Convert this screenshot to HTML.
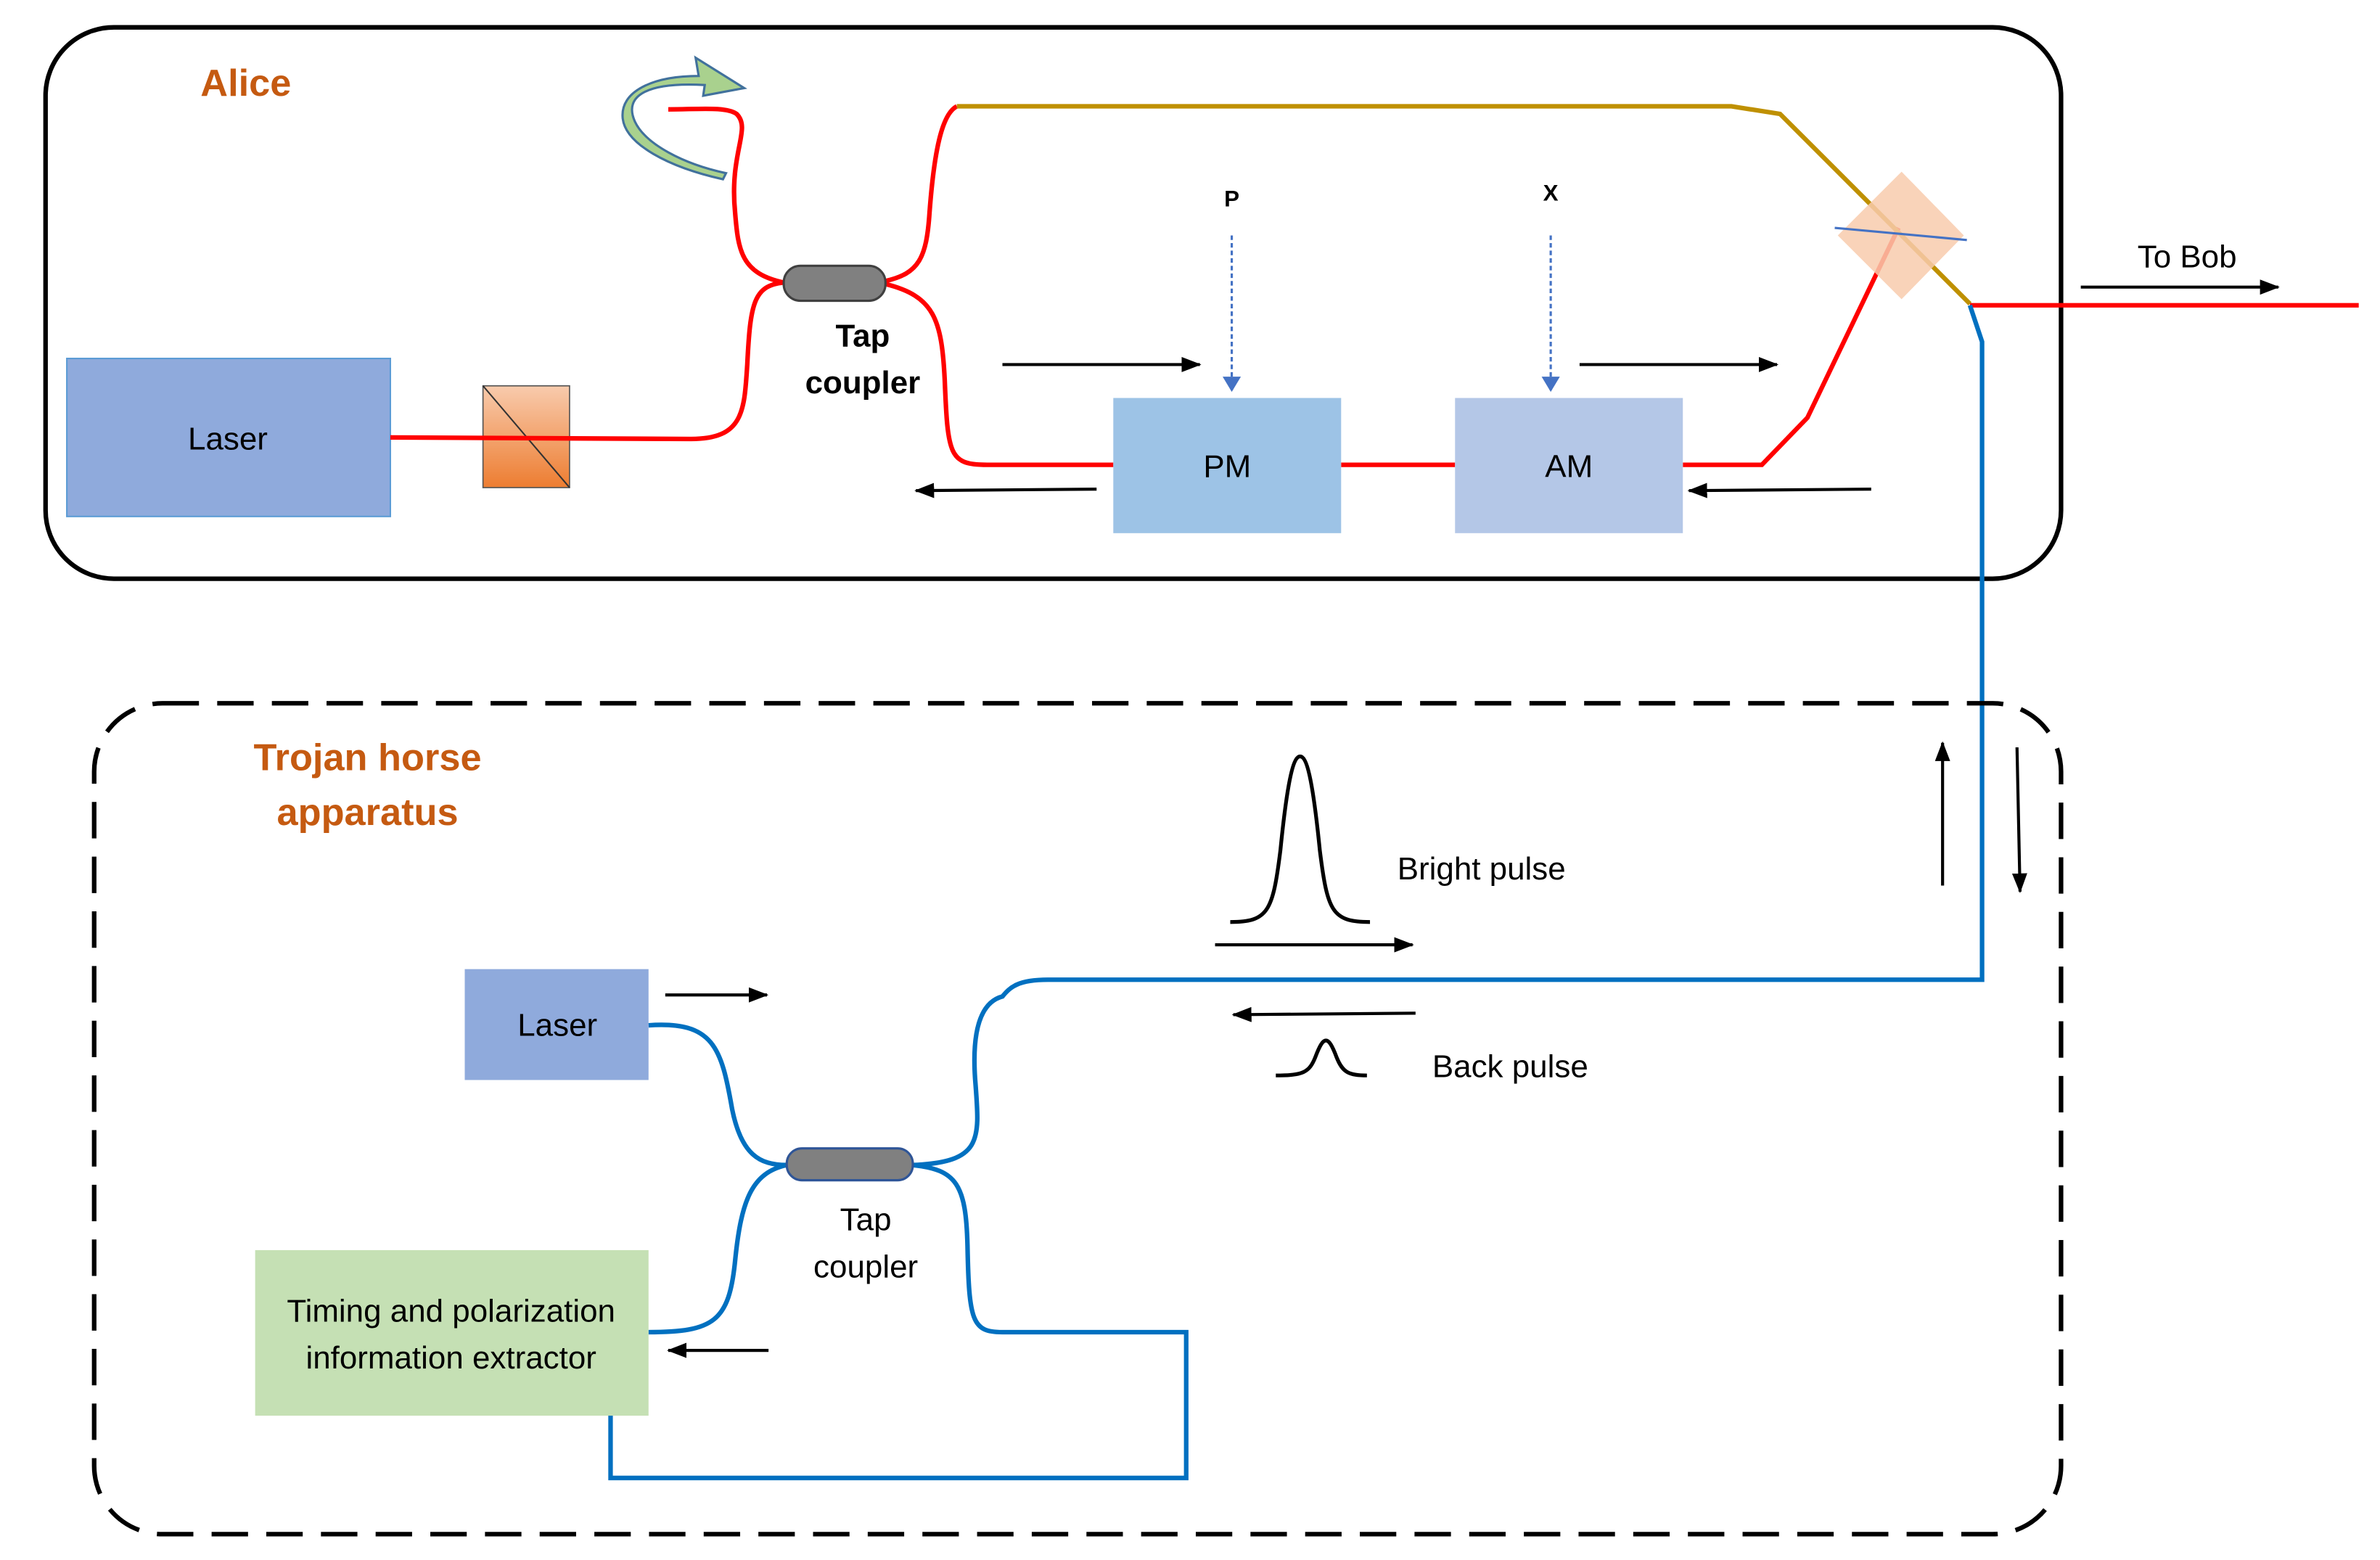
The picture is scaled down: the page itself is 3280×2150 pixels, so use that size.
<!DOCTYPE html>
<html><head><meta charset="utf-8"><style>
html,body{margin:0;padding:0;background:#fff;}
svg{display:block;}
text{font-family:"Liberation Sans",sans-serif;}
</style></head><body>
<svg width="3280" height="2150" viewBox="0 0 1567 1027" preserveAspectRatio="none" xmlns="http://www.w3.org/2000/svg">
<defs>
<marker id="ah" markerWidth="13" markerHeight="10" refX="12" refY="5" orient="auto" markerUnits="userSpaceOnUse"><path d="M0,0 L13,5 L0,10 z" fill="#000"/></marker>
<marker id="bh" markerWidth="10" markerHeight="12" refX="9" refY="6" orient="auto" markerUnits="userSpaceOnUse"><path d="M0,0 L10,6 L0,12 z" fill="#4472C4"/></marker>
<linearGradient id="og" x1="0" y1="0" x2="0" y2="1"><stop offset="0" stop-color="#F8CBAD"/><stop offset="1" stop-color="#ED7D31"/></linearGradient>
</defs>
<rect x="30" y="18" width="1327" height="363" rx="45" fill="none" stroke="#000" stroke-width="3"/>
<text x="132" y="63" font-size="25" font-weight="bold" fill="#C55A11">Alice</text>
<rect x="44" y="236" width="213" height="104" fill="#8FAADC" stroke="#5B9BD5" stroke-width="1"/>
<text x="150" y="296" font-size="21" text-anchor="middle" fill="#000">Laser</text>
<rect x="318" y="254" width="57" height="67" fill="url(#og)" stroke="#555" stroke-width="0.8"/>
<line x1="318" y1="254" x2="375" y2="321" stroke="#333" stroke-width="1"/>
<g fill="none" stroke="#FF0000" stroke-width="3">
<path d="M257,288 L455,289 C490,289 490,270 492,240 C494,200 496,188 516,186"/>
<path d="M516,186 C488,180 486,165 484,140 C480,100 495,85 485,75 C478,70 460,72 440,72"/>
<path d="M583,185 C605,180 610,170 612,140 C615,100 620,75 630,70"/>
<path d="M583,187 C615,195 620,210 622,250 C624,300 625,306 650,306 L733,306"/>
<path d="M883,306 L958,306"/>
<path d="M1108,306 L1160,306 L1190,275 L1250,150"/>
<path d="M1297,201 L1553,201"/>
</g>
<path d="M630,70 L1140,70 L1172,75 L1297,200" fill="none" stroke="#BF9000" stroke-width="3"/>
<path d="M458,38 L490,58 L463,63 L464,56 C428,54 410,62 418,80 C425,95 450,108 478,114 L476,118 C440,110 412,95 410,78 C408,60 430,50 460,50 Z" fill="#A9D18E" stroke="#41719C" stroke-width="1.5"/>
<rect x="516" y="175" width="67" height="23" rx="11" fill="#808080" stroke="#404040" stroke-width="1.5"/>
<text x="568" y="228" font-size="21" font-weight="bold" text-anchor="middle">Tap</text>
<text x="568" y="259" font-size="21" font-weight="bold" text-anchor="middle">coupler</text>
<rect x="733" y="262" width="150" height="89" fill="#9DC3E6"/>
<text x="808" y="314" font-size="21" text-anchor="middle">PM</text>
<rect x="958" y="262" width="150" height="89" fill="#B4C7E7"/>
<text x="1033" y="314" font-size="21" text-anchor="middle">AM</text>
<text x="811" y="136" font-size="15" font-weight="bold" text-anchor="middle">P</text>
<text x="1021" y="132" font-size="15" font-weight="bold" text-anchor="middle">X</text>
<line x1="811" y1="155" x2="811" y2="257" stroke="#4472C4" stroke-width="1.5" stroke-dasharray="3,2" marker-end="url(#bh)"/>
<line x1="1021" y1="155" x2="1021" y2="257" stroke="#4472C4" stroke-width="1.5" stroke-dasharray="3,2" marker-end="url(#bh)"/>
<g stroke="#000" stroke-width="2" marker-end="url(#ah)">
<line x1="660" y1="240" x2="790" y2="240"/>
<line x1="722" y1="322" x2="603" y2="323"/>
<line x1="1040" y1="240" x2="1170" y2="240"/>
<line x1="1232" y1="322" x2="1112" y2="323"/>
<line x1="1370" y1="189" x2="1500" y2="189"/>
<line x1="800" y1="622" x2="930" y2="622"/>
<line x1="932" y1="667" x2="812" y2="668"/>
<line x1="1279" y1="583" x2="1279" y2="489"/>
<line x1="1328" y1="492" x2="1330" y2="587"/>
<line x1="438" y1="655" x2="505" y2="655"/>
<line x1="506" y1="889" x2="440" y2="889"/>
</g>
<polygon points="1252,113 1293,155 1252,197 1210,155" fill="#F8CBAD" fill-opacity="0.85"/>
<line x1="1208" y1="150" x2="1295" y2="158" stroke="#4472C4" stroke-width="1.5"/>
<text x="1440" y="176" font-size="21" text-anchor="middle">To Bob</text>
<g fill="none" stroke="#0070C0" stroke-width="3">
<path d="M1297,201 L1305,225 L1305,645 L690,645 C670,645 665,650 660,656 C645,660 640,680 642,710 C645,750 648,765 601,767"/>
<path d="M427,675 C470,672 475,690 482,730 C488,760 500,767 518,767"/>
<path d="M518,767 C495,772 488,790 484,830 C480,870 470,877 427,877"/>
<path d="M601,767 C630,770 636,780 637,820 C638,870 640,877 660,877 L781,877 L781,973 L402,973 L402,930"/>
</g>
<rect x="62" y="463" width="1295" height="547" rx="45" fill="none" stroke="#000" stroke-width="3" stroke-dasharray="24,12"/>
<text x="242" y="507" font-size="25" font-weight="bold" fill="#C55A11" text-anchor="middle">Trojan horse</text>
<text x="242" y="543" font-size="25" font-weight="bold" fill="#C55A11" text-anchor="middle">apparatus</text>
<path d="M810,607 C835,607 838,600 843,560 C848,510 852,498 856,498 C860,498 864,510 869,560 C874,600 877,607 902,607" fill="none" stroke="#000" stroke-width="2.5"/>
<text x="920" y="579" font-size="21">Bright pulse</text>
<path d="M840,708 C858,708 862,706 866,696 C869,688 871,685 873,685 C875,685 877,688 880,696 C884,706 888,708 900,708" fill="none" stroke="#000" stroke-width="2.5"/>
<text x="943" y="709" font-size="21">Back pulse</text>
<rect x="306" y="638" width="121" height="73" fill="#8FAADC"/>
<text x="367" y="682" font-size="21" text-anchor="middle">Laser</text>
<rect x="518" y="756" width="83" height="21" rx="10" fill="#808080" stroke="#2F5597" stroke-width="1.5"/>
<text x="570" y="810" font-size="21" text-anchor="middle">Tap</text>
<text x="570" y="841" font-size="21" text-anchor="middle">coupler</text>
<rect x="168" y="823" width="259" height="109" fill="#C5E0B4"/>
<text x="297" y="870" font-size="21" text-anchor="middle">Timing and polarization</text>
<text x="297" y="901" font-size="21" text-anchor="middle">information extractor</text>
</svg>
</body></html>
